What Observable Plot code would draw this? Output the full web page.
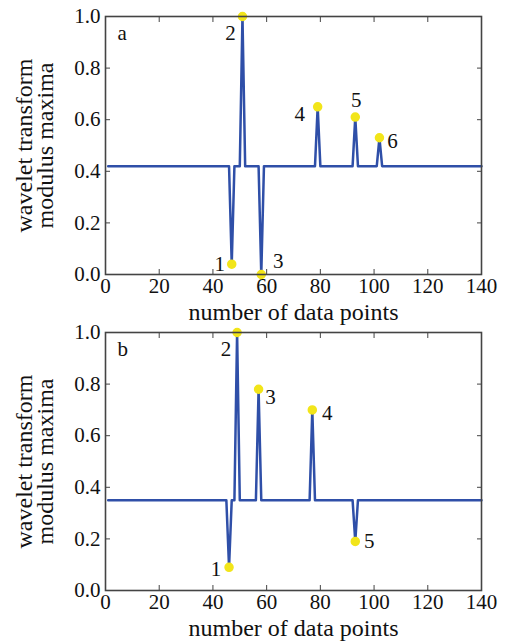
<!DOCTYPE html>
<html>
<head>
<meta charset="utf-8">
<script src="https://cdn.jsdelivr.net/npm/d3@7"></script>
<script src="https://cdn.jsdelivr.net/npm/@observablehq/plot@0.6"></script>
<style>
  html, body { margin: 0; padding: 0; background: #fff; }
  #chart { width: 511px; }
  #chart svg { display: block; font-family: 'Liberation Serif', 'Times New Roman', serif; }
</style>
</head>
<body>
<div id="chart"></div>
<script>
// ---- data ----
const xTicks = [0, 20, 40, 60, 80, 100, 120, 140];
const yTicks = [0, 0.2, 0.4, 0.6, 0.8, 1.0];
const xTitle = "number of data points";
const yTitle = "wavelet transform\nmodulus maxima";

// panel a polyline vertices
const aX = [1, 46, 47, 48, 50, 51, 52, 57, 58, 59, 78, 79, 80, 92, 93, 94, 101, 102, 103, 140];
const aY = [0.42, 0.42, 0.04, 0.42, 0.42, 1.0, 0.42, 0.42, 0.0, 0.42, 0.42, 0.65, 0.42, 0.42, 0.61, 0.42, 0.42, 0.53, 0.42, 0.42];
// panel a extrema
const aPeakX = [47, 51, 58, 79, 93, 102];
const aPeakY = [0.04, 1.0, 0.0, 0.65, 0.61, 0.53];
const aPeakLabel = ["1", "2", "3", "4", "5", "6"];

// panel b polyline vertices
const bX = [1, 45, 46, 47, 48, 49, 50, 56, 57, 58, 76, 77, 78, 92, 93, 94, 140];
const bY = [0.35, 0.35, 0.09, 0.35, 0.35, 1.0, 0.35, 0.35, 0.78, 0.35, 0.35, 0.70, 0.35, 0.35, 0.19, 0.35, 0.35];
// panel b extrema
const bPeakX = [46, 49, 57, 77, 93];
const bPeakY = [0.09, 1.0, 0.78, 0.70, 0.19];
const bPeakLabel = ["1", "2", "3", "4", "5"];

// label offsets (annotation placement, in px)
const aOffsets = [[-12, 0], [-12, 17], [17, -13], [-18, 7], [1, -17], [13, 4]];
const bOffsets = [[-13, 2], [-11, 17], [12, 8], [15, 3], [14, 0]];

const FONT = "'Liberation Serif', 'Times New Roman', serif";
const LINE = "#2f4fa8";
const DOT = "#f2e51a";
const FRAME = "#444";

function panel({xs, ys, px, py, plab, offs, tag, height, marginTop, marginBottom}) {
  const line = xs.map((x, i) => ({x, y: ys[i]}));
  const peaks = px.map((x, i) => ({x, y: py[i], label: plab[i], dx: offs[i][0], dy: offs[i][1]}));
  const labelMarks = peaks.map(p => Plot.text([p], {
    x: "x", y: "y", text: "label", dx: p.dx, dy: p.dy,
    fontSize: 21, fill: "#111", fontFamily: FONT
  }));
  return Plot.plot({
    width: 511,
    height,
    marginTop,
    marginBottom,
    marginLeft: 105,
    marginRight: 30,
    style: {fontFamily: FONT, color: "#111", background: "#fff", overflow: "visible"},
    x: {domain: [0, 140]},
    y: {domain: [0, 1]},
    marks: [
      Plot.axisX({ticks: xTicks, anchor: "bottom", tickSize: -5, tickPadding: 9, fontSize: 21, fontFamily: FONT, stroke: FRAME, label: null}),
      Plot.axisX({ticks: xTicks, anchor: "top", tickSize: -5, tickFormat: () => "", stroke: FRAME, label: null}),
      Plot.axisY({ticks: yTicks, anchor: "left", tickSize: -5, tickPadding: 10, fontSize: 21, fontFamily: FONT, tickFormat: d3.format(".1f"), stroke: FRAME, label: null}),
      Plot.axisY({ticks: yTicks, anchor: "right", tickSize: -5, tickFormat: () => "", stroke: FRAME, label: null}),
      Plot.line(line, {x: "x", y: "y", stroke: LINE, strokeWidth: 2.5}),
      Plot.dot(peaks, {x: "x", y: "y", r: 4, fill: DOT, stroke: DOT}),
      ...labelMarks,
      Plot.frame({stroke: FRAME, strokeWidth: 1.6}),
      Plot.text([tag], {frameAnchor: "top-left", dx: 12, dy: 17, fontSize: 21, fill: "#111", fontFamily: FONT, textAnchor: "start", lineAnchor: "middle"}),
      Plot.text([xTitle], {frameAnchor: "bottom", dy: 38, fontSize: 24, fill: "#111", fontFamily: FONT, textAnchor: "middle", lineAnchor: "middle"}),
      Plot.text([yTitle], {frameAnchor: "left", dx: -70, rotate: -90, fontSize: 24, lineHeight: 0.88, fill: "#111", fontFamily: FONT, textAnchor: "middle", lineAnchor: "middle"})
    ]
  });
}

const chart = document.getElementById("chart");
chart.append(panel({xs: aX, ys: aY, px: aPeakX, py: aPeakY, plab: aPeakLabel, offs: aOffsets, tag: "a", height: 320, marginTop: 16, marginBottom: 46}));
chart.append(panel({xs: bX, ys: bY, px: bPeakX, py: bPeakY, plab: bPeakLabel, offs: bOffsets, tag: "b", height: 321, marginTop: 12, marginBottom: 51}));
</script>
</body>
</html>
